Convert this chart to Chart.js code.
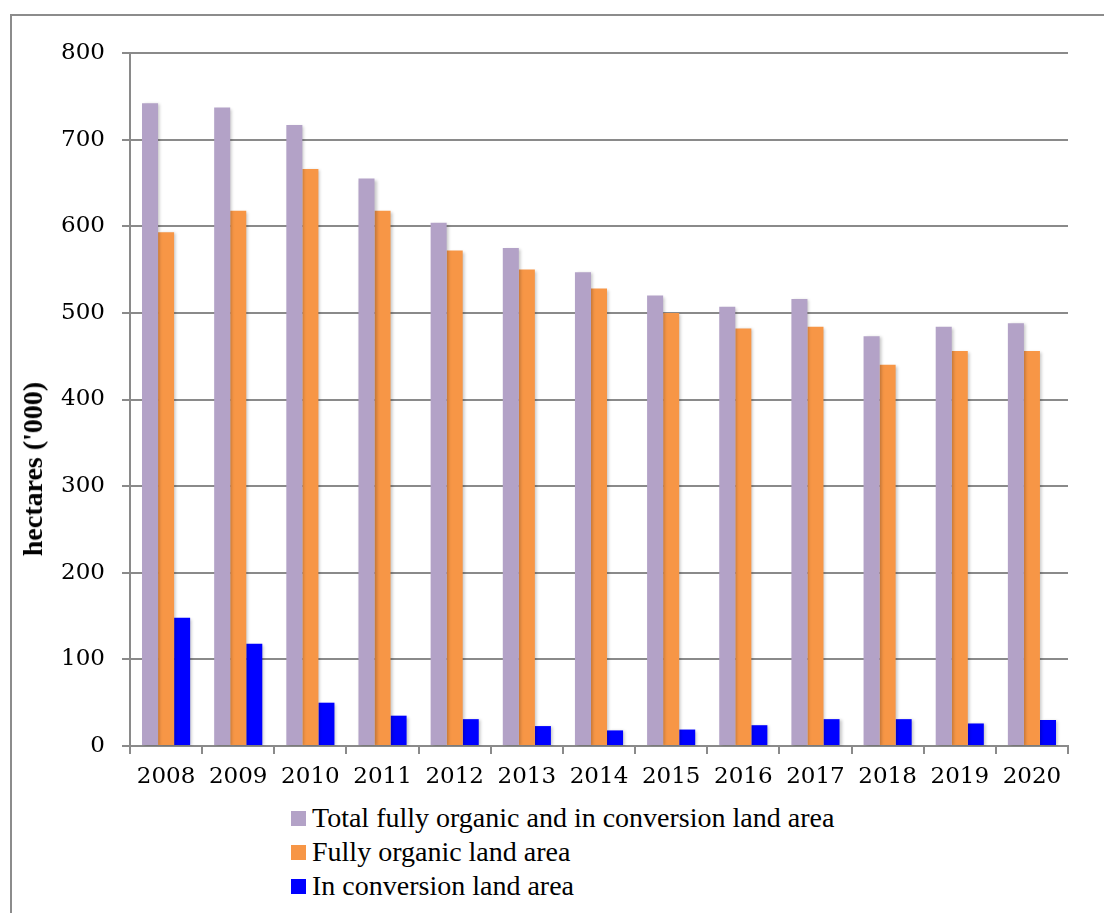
<!DOCTYPE html>
<html>
<head>
<meta charset="utf-8">
<title>Organic land area</title>
<script src="https://cdn.jsdelivr.net/npm/chart.js@4/dist/chart.umd.min.js"></script>
<style>
    body {
        margin: 0;
        background: #ffffff;
        width: 1104px;
        height: 913px;
        overflow: hidden;
        position: relative;
    }
    #frame {
        position: absolute;
        left: 10px;
        top: 14px;
        width: 1200px;
        height: 1000px;
        border: 2px solid #8c8c8c;
    }
    #chart-canvas {
        position: absolute;
        left: 0;
        top: 0;
    }
    #y-title {
        position: absolute;
        left: 33px;
        top: 469px;
        transform: translate(-50%, -50%) rotate(-90deg);
        font-family: "Liberation Serif", serif;
        font-weight: bold;
        font-size: 28px;
        white-space: nowrap;
        color: #000;
    }
    #legend {
        position: absolute;
        left: 291px;
        top: 801px;
        font-family: "Liberation Serif", serif;
        font-size: 28px;
        color: #000;
    }
    .legend-item {
        height: 34px;
        display: flex;
        align-items: center;
        white-space: nowrap;
    }
    .legend-box {
        width: 15px;
        height: 15px;
        margin-right: 6px;
        flex: none;
    }
</style>
</head>
<body>
<div id="frame"></div>
<canvas id="chart-canvas" width="1104" height="800"></canvas>
<div id="y-title">hectares ('000)</div>
<div id="legend"></div>

<script>
// data
const years = ['2008', '2009', '2010', '2011', '2012', '2013', '2014', '2015', '2016', '2017', '2018', '2019', '2020'];
const totalArea = [742, 737, 717, 655, 604, 575, 547, 520, 507, 516, 473, 484, 488];
const fullyOrganic = [593, 618, 666, 618, 572, 550, 528, 500, 482, 484, 440, 456, 456];
const inConversion = [148, 118, 50, 35, 31, 23, 18, 19, 24, 31, 31, 26, 30];

const seriesNames = [
    'Total fully organic and in conversion land area',
    'Fully organic land area',
    'In conversion land area'
];
const seriesColors = ['#b3a2c7', '#f79646', '#0000ff'];

const gridColor = '#8a8a8a';
const tickFont = {family: 'DejaVu Serif', size: 23};

// soft shadow behind the bars, like the office chart
const barShadow = {
    id: 'barShadow',
    beforeDatasetsDraw(chart) {
        const ctx = chart.ctx;
        ctx.save();
        ctx.shadowColor = 'rgba(0,0,0,0.22)';
        ctx.shadowBlur = 3;
        ctx.shadowOffsetX = 2;
        ctx.shadowOffsetY = 1;
    },
    afterDatasetsDraw(chart) {
        chart.ctx.restore();
    }
};

let config = {
    type: 'bar',
    data: {
        labels: years,
        datasets: [
            {label: seriesNames[0], data: totalArea, backgroundColor: seriesColors[0]},
            {label: seriesNames[1], data: fullyOrganic, backgroundColor: seriesColors[1]},
            {label: seriesNames[2], data: inConversion, backgroundColor: seriesColors[2]}
        ]
    },
    options: {
        responsive: false,
        animation: false,
        layout: {
            padding: {top: 53, right: 36, left: 0, bottom: 0}
        },
        datasets: {
            bar: {
                categoryPercentage: 0.667,
                barPercentage: 1.0
            }
        },
        plugins: {
            legend: {display: false},
            tooltip: {enabled: false}
        },
        scales: {
            x: {
                grid: {
                    drawOnChartArea: false,
                    drawTicks: true,
                    tickLength: 8,
                    color: gridColor,
                    lineWidth: 2
                },
                border: {color: gridColor, width: 2},
                ticks: {
                    color: '#000',
                    font: tickFont,
                    padding: 9,
                    maxRotation: 0
                },
                afterFit: (scale) => {
                    scale.height = 54;
                }
            },
            y: {
                min: 0,
                max: 800,
                grid: {
                    color: gridColor,
                    lineWidth: 2,
                    tickLength: 8
                },
                border: {color: gridColor, width: 2},
                ticks: {
                    stepSize: 100,
                    color: '#000',
                    font: tickFont,
                    padding: 17
                },
                afterFit: (scale) => {
                    scale.width = 130;
                }
            }
        }
    },
    plugins: [barShadow]
};

let chart = new Chart(document.getElementById('chart-canvas'), config);

// legend as a vertical list under the chart
const legendEl = document.getElementById('legend');
chart.data.datasets.forEach((ds) => {
    const item = document.createElement('div');
    item.className = 'legend-item';
    const box = document.createElement('span');
    box.className = 'legend-box';
    box.style.background = ds.backgroundColor;
    item.appendChild(box);
    item.appendChild(document.createTextNode(ds.label));
    legendEl.appendChild(item);
});
</script>
</body>
</html>
